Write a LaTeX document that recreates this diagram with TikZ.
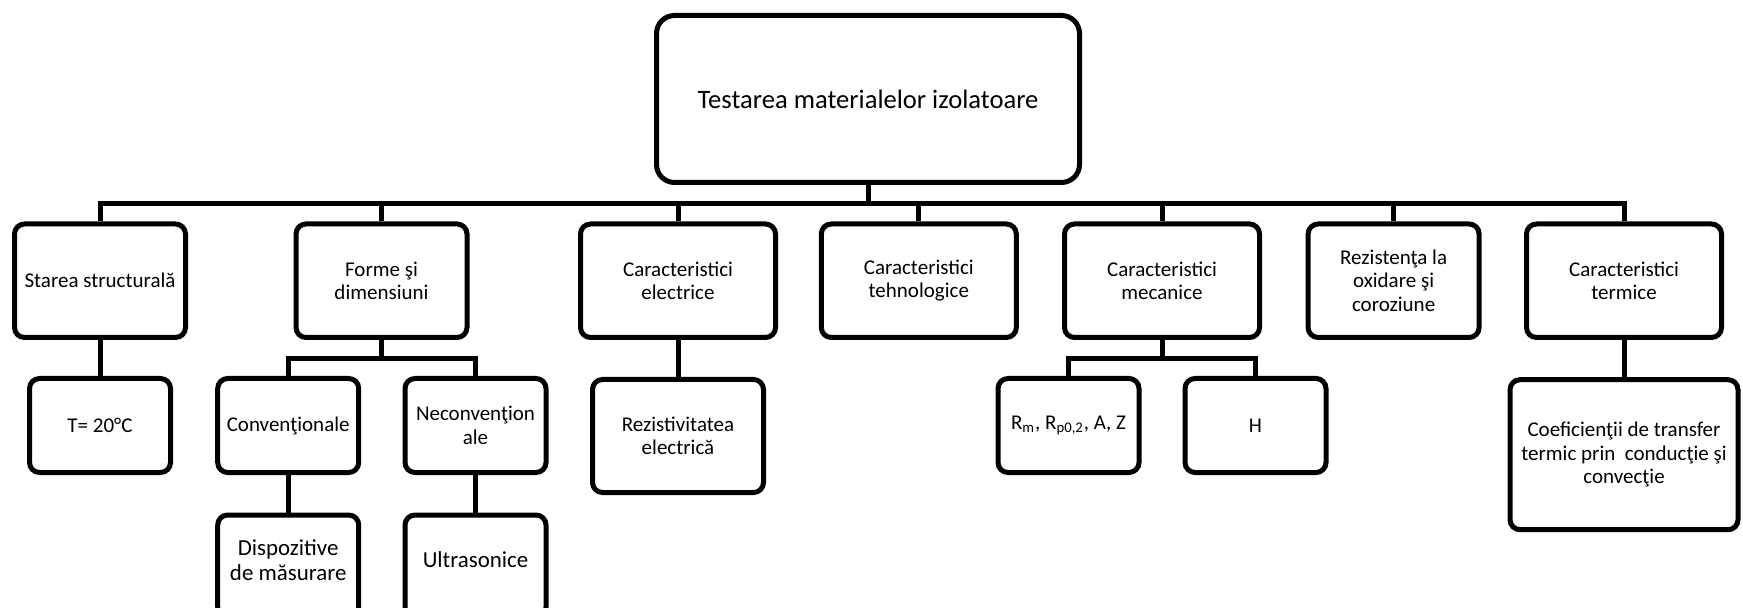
\documentclass[tikz,border=0pt]{standalone}
\usepackage{fontspec}
\setmainfont{Carlito}
\begin{document}
\begin{tikzpicture}[x=0.5pt,y=-0.5pt,
  boxbase/.style={draw=black, line width=2.5pt, fill=white, inner sep=0pt,
    align=center, font=\fontsize{10.5}{11.65}\selectfont, rounded corners=5pt},
  rootbox/.style={boxbase, rounded corners=9pt, minimum width=211.5pt, minimum height=83.5pt,
    font=\fontsize{13.3}{15}\selectfont},
  narrowbox/.style={boxbase, minimum width=85.5pt, minimum height=56.75pt},
  widebox/.style={boxbase, minimum width=97.5pt, minimum height=56.75pt},
  smallbox/.style={boxbase, minimum width=70.5pt, minimum height=47pt},
  tallbox/.style={boxbase, minimum width=70.5pt, minimum height=51pt},
  bigtext/.style={inner sep=0pt, align=center, font=\fontsize{11.45}{12.5}\selectfont},
  conn/.style={draw=black, line width=2.5pt}
]
\useasboundingbox (0,0) rectangle (1743,608);
\clip (0,0) rectangle (1743,608);

% horizontal rails of the tree
\coordinate (bus) at (0,204);
\coordinate (sub) at (0,358.3);

% root
\node[rootbox] (root) at (868,99) {Testarea materialelor izolatoare};

% first level
\node[narrowbox] (s1) at (100,280.75)    {Starea structurală};
\node[narrowbox] (s2) at (381.5,280.75)  {Forme şi\\dimensiuni};
\node[widebox]   (s3) at (678,280.75)    {Caracteristici\\electrice};
\node[widebox]   (s4) at (918.8,280.75)  {Caracteristici\\tehnologice};
\node[widebox]   (s5) at (1162,280.75)   {Caracteristici\\mecanice};
\node[narrowbox] (s6) at (1393.6,280.75) {Rezistenţa la\\oxidare şi\\coroziune};
\node[widebox]   (s7) at (1624,280.75)   {Caracteristici\\termice};

% second level
\node[smallbox] (temp)  at (100,425.5)    {T= 20°C};
\node[smallbox] (conv)  at (288.2,425.5)  {Convenţionale};
\node[smallbox] (necon) at (475.5,425.5)  {Neconvenţion\\ale};
\node[boxbase, minimum width=85.5pt, minimum height=56.5pt] (rezel) at (678,436) {Rezistivitatea\\electrică};
\node[smallbox] (rm)    at (1068.5,425.5) {R\textsubscript{m}, R\textsubscript{p0,2}, A, Z};
\node[smallbox] (hard)  at (1255.5,425.5) {H};
\node[boxbase, minimum width=114pt, minimum height=75pt] (coef) at (1624,454.7)
  {Coeficienţii de transfer\\termic prin\ \ conducţie şi\\convecţie};

% third level (boxes run past the lower edge)
\node[tallbox] (disp)  at (288.2,566) {};
\node[tallbox] (ultra) at (475.5,566) {};
\node[bigtext] (disptxt)  at (288.2,560) {Dispozitive\\de măsurare};
\node[bigtext] (ultratxt) at (475.5,560) {Ultrasonice};

% connectors
\foreach \c in {s1,s2,s3,s4,s5,s6,s7}
  \draw[conn] (root.south) -- (root.south |- bus) -| (\c.north);
\draw[conn] (s1.south) -- (temp.north);
\foreach \c in {conv,necon}
  \draw[conn] (s2.south) -- (s2.south |- sub) -| (\c.north);
\draw[conn] (s3.south) -- (rezel.north);
\foreach \c in {rm,hard}
  \draw[conn] (s5.south) -- (s5.south |- sub) -| (\c.north);
\draw[conn] (s7.south) -- (coef.north);
\draw[conn] (conv.south) -- (disp.north);
\draw[conn] (necon.south) -- (ultra.north);
\end{tikzpicture}
\end{document}
